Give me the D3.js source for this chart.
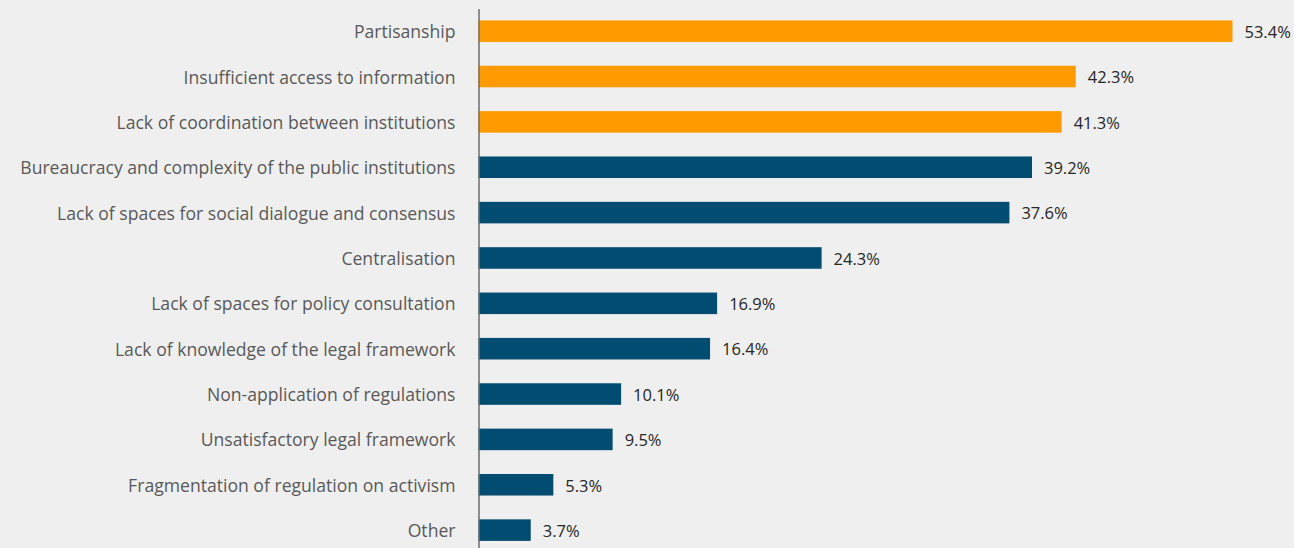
<!DOCTYPE html>
<html>
<head>
<meta charset="utf-8">
<script src="https://cdn.jsdelivr.net/npm/d3@7/dist/d3.min.js"></script>
<style>
  html, body { margin: 0; padding: 0; background: #efefef; }
  svg { display: block; }
</style>
</head>
<body>
<svg id="chart" width="1294" height="548"></svg>
<script>
// Obstacles reported, share of respondents (%)
const categories = [
  "Partisanship",
  "Insufficient access to information",
  "Lack of coordination between institutions",
  "Bureaucracy and complexity of the public institutions",
  "Lack of spaces for social dialogue and consensus",
  "Centralisation",
  "Lack of spaces for policy consultation",
  "Lack of knowledge of the legal framework",
  "Non-application of regulations",
  "Unsatisfactory legal framework",
  "Fragmentation of regulation on activism",
  "Other"
];
const values = [53.4, 42.3, 41.3, 39.2, 37.6, 24.3, 16.9, 16.4, 10.1, 9.5, 5.3, 3.7];
// The three most cited obstacles are highlighted
const highlighted = [true, true, true, false, false, false, false, false, false, false, false, false];

const ORANGE = "#ff9b00";
const BLUE = "#004d71";
const FONT = "'Open Sans', 'Noto Sans', sans-serif";

const svg = d3.select("#chart");
const x0 = 478.5;

const x = d3.scaleLinear().domain([0, 53.4]).range([x0, 1232.5]);
const y = d3.scaleBand()
  .domain(categories)
  .range([8.5, 552.8])
  .paddingInner(0.525)
  .paddingOuter(0.2625);

const rows = categories.map((c, i) => ({ c, v: values[i], hi: highlighted[i] }));

svg.append("g").selectAll("rect")
  .data(rows)
  .join("rect")
  .attr("x", x(0))
  .attr("y", d => y(d.c))
  .attr("width", d => x(d.v) - x(0))
  .attr("height", y.bandwidth())
  .attr("fill", d => d.hi ? ORANGE : BLUE);

svg.append("g").selectAll("text")
  .data(rows)
  .join("text")
  .attr("x", d => x(d.v) + 12)
  .attr("y", d => y(d.c) + y.bandwidth() / 2 + 1)
  .attr("dy", "0.35em")
  .attr("font-family", FONT)
  .attr("font-size", 16.5)
  .attr("fill", "#262626")
  .text(d => d.v.toFixed(1) + "%");

const axis = svg.append("g")
  .attr("transform", `translate(${x0},0)`)
  .call(d3.axisLeft(y).tickSize(0).tickPadding(23));
axis.select(".domain").attr("stroke", "#6e6e6e").attr("stroke-width", 1.5);
axis.selectAll("text")
  .attr("dy", "0.4em")
  .attr("font-family", FONT)
  .attr("font-size", 17.6)
  .attr("fill", "#595959");
</script>
</body>
</html>
